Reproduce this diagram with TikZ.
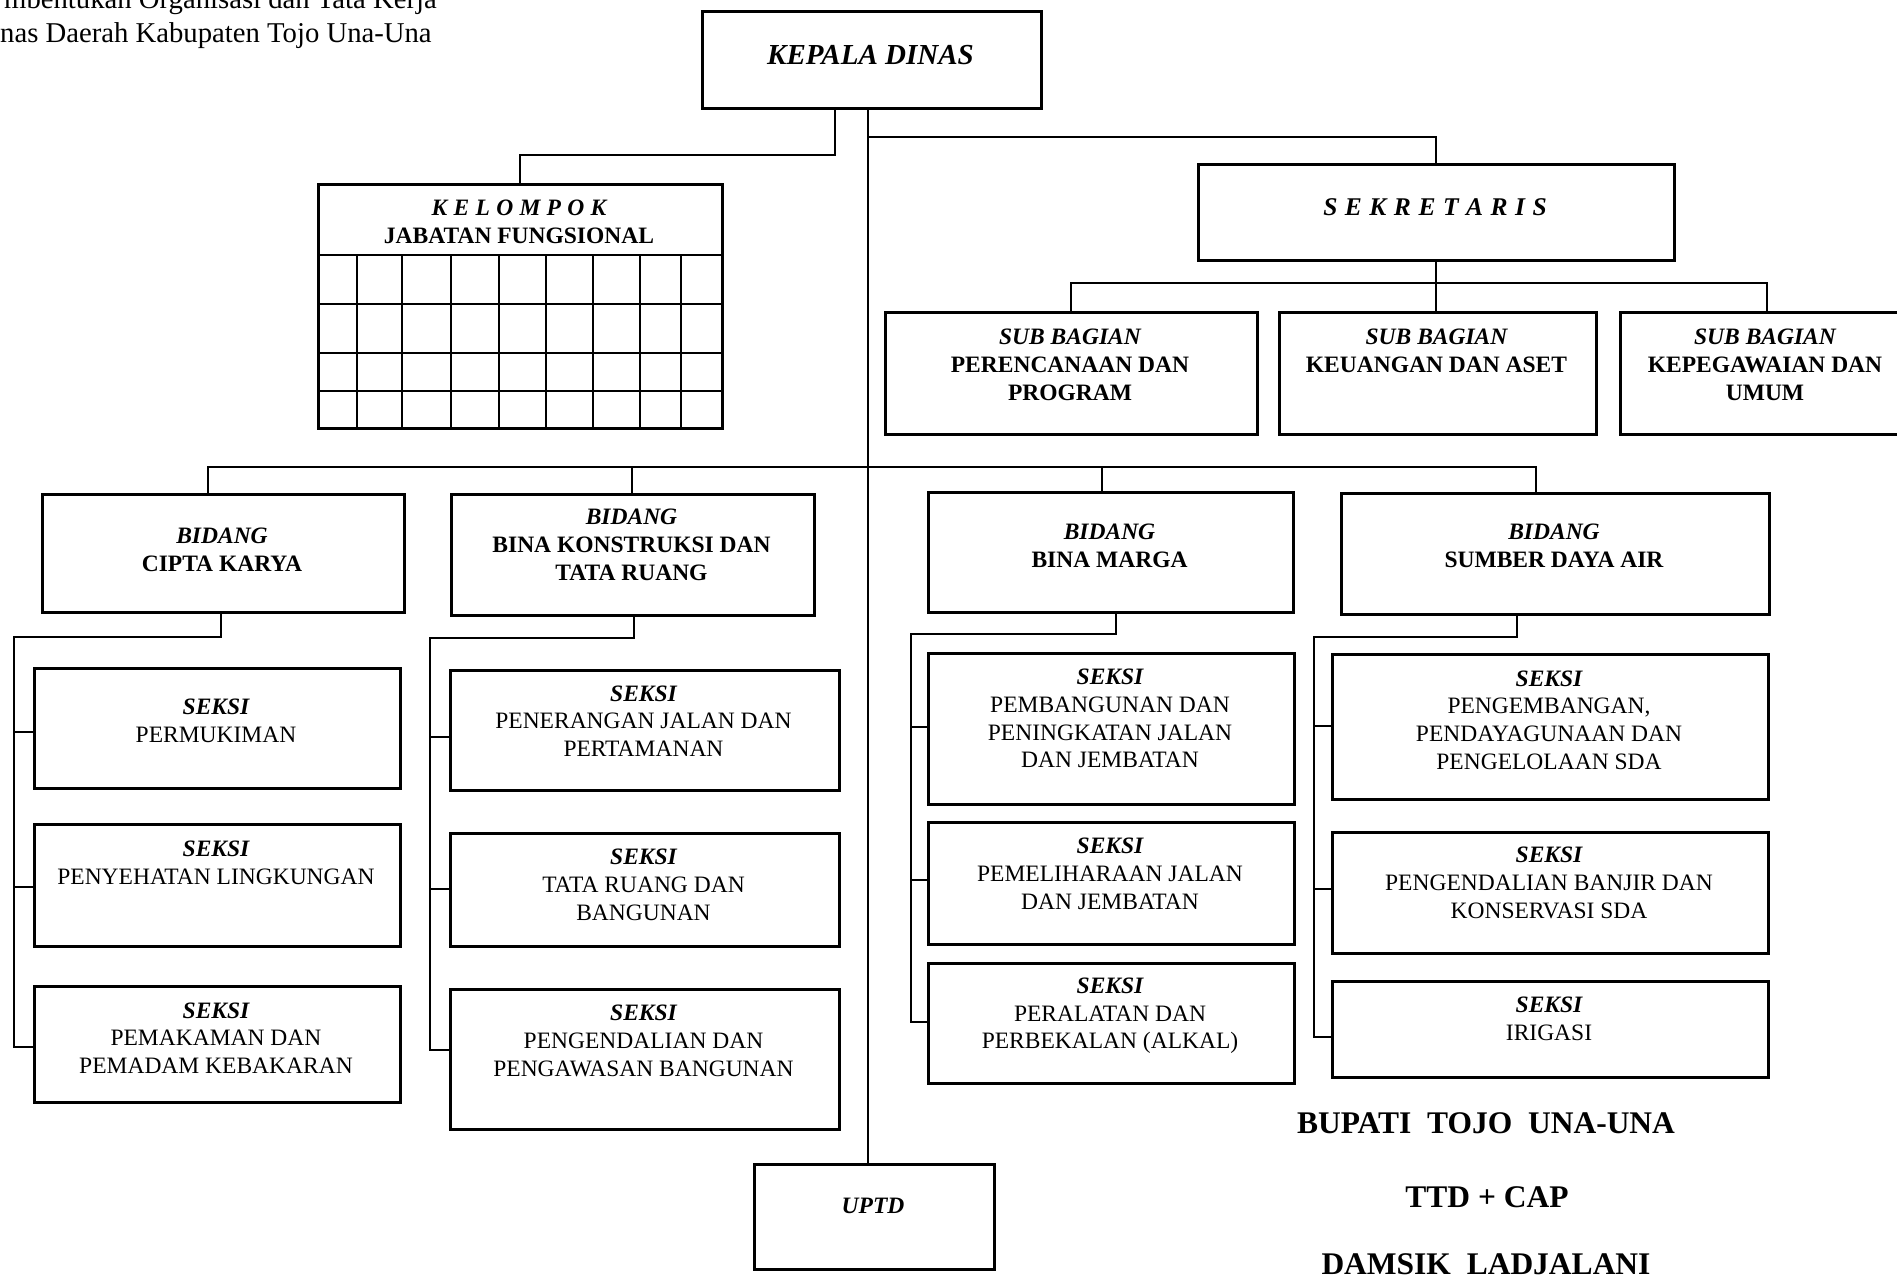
\documentclass[tikz,border=0pt]{standalone}
\usepackage{fontspec}
\setmainfont{Liberation Serif}
% box given by its top-left and bottom-right corners (y grows downwards)
\newcommand\orgbox[5]{\node[box, minimum width={(#4-#2)*1pt}, minimum height={(#5-#3)*1pt}] (#1) at (#2,#3) {};}
\newcommand\lblhead[1]{{\bfseries\itshape #1}}
\begin{document}
\begin{tikzpicture}[x=1pt, y=-1pt,
  box/.style={draw, line width=2.6pt, rectangle, inner sep=0pt, anchor=north west},
  conn/.style={line width=2.2pt},
  gridline/.style={line width=2.4pt},
  lbl/.style={inner sep=0pt, align=center, font=\fontsize{23.5}{27.7}\selectfont},
  boldlbl/.style={lbl, font=\fontsize{23.5}{27.7}\selectfont\bfseries},
  sign/.style={inner sep=0pt, font=\fontsize{31.5}{36}\selectfont\bfseries},
  hdr/.style={inner sep=0pt, anchor=base west, font=\fontsize{28.7}{34}\selectfont}]

\useasboundingbox (0,0) rectangle (1897,1281);
\clip (0,0) rectangle (1897,1281);

% heading lines of the decree
\node[hdr] (hd1) at (4,8.5) {mbentukan Organisasi dan Tata Kerja};
\node[hdr] (hd2) at (0,43) {nas Daerah Kabupaten Tojo Una-Una};

% boxes
\orgbox{kd}{701}{10}{1040}{107}
\orgbox{kjf}{317}{183}{721}{427}
\orgbox{sek}{1197}{163}{1673}{259}
\orgbox{sb1}{884}{311}{1256}{433}
\orgbox{sb2}{1278}{311}{1595}{433}
\orgbox{sb3}{1619}{311}{1912}{433}
\orgbox{b1}{41}{493}{403}{611}
\orgbox{b2}{450}{493}{813}{614}
\orgbox{b3}{927}{491}{1292}{611}
\orgbox{b4}{1340}{492}{1768}{613}
\orgbox{s11}{33}{667}{399}{787}
\orgbox{s12}{33}{823}{399}{945}
\orgbox{s13}{33}{985}{399}{1101}
\orgbox{s21}{449}{669}{838}{789}
\orgbox{s22}{449}{832}{838}{945}
\orgbox{s23}{449}{988}{838}{1128}
\orgbox{s31}{927}{652}{1293}{803}
\orgbox{s32}{927}{821}{1293}{943}
\orgbox{s33}{927}{962}{1293}{1082}
\orgbox{s41}{1331}{653}{1767}{798}
\orgbox{s42}{1331}{831}{1767}{952}
\orgbox{s43}{1331}{980}{1767}{1076}
\orgbox{uptd}{753}{1163}{993}{1268}

% grid of the functional group
\draw[gridline] (317,255) -- (721,255);
\foreach \r in {304,353,391} \draw[gridline] (317,\r) -- (721,\r);
\foreach \c in {357,402,451,499,546,593,640,681} \draw[gridline] (\c,255) -- (\c,427);

% main line and upper branches
\coordinate (mx) at (868,0);
\draw[conn] (kd.south -| mx) -- (uptd.north -| mx);
\coordinate (kjbend) at (835,155);
\draw[conn] (kd.south -| kjbend) -- (kjbend) -| (kjf.north);
\coordinate (sekj) at (868,137);
\draw[conn] (sekj) -| (sek.north);
\coordinate (sbbus) at (0,283);
\draw[conn] (sek.south) -- (sek.south |- sb2.north);
\draw[conn] (sb1.north) |- (sbbus -| sb3.north) -- (sb3.north);

% bidang bus
\coordinate (bb1) at (208,467);
\coordinate (bb2) at (632,467);
\coordinate (bb3) at (1102,467);
\coordinate (bb4) at (1536,467);
\draw[conn] (bb1 |- b1.north) -- (bb1) -- (bb4) -- (bb4 |- b4.north);
\draw[conn] (bb2) -- (bb2 |- b2.north);
\draw[conn] (bb3) -- (bb3 |- b3.north);

% seksi under Cipta Karya
\coordinate (c1t) at (221,637); \coordinate (c1b) at (14,637);
\coordinate (c1s1) at (14,732); \coordinate (c1s2) at (14,887); \coordinate (c1s3) at (14,1047);
\draw[conn] (c1t |- b1.south) -- (c1t) -- (c1b) -- (c1s3) -- (c1s3 -| s13.west);
\draw[conn] (c1s1) -- (c1s1 -| s11.west);
\draw[conn] (c1s2) -- (c1s2 -| s12.west);

% seksi under Bina Konstruksi
\coordinate (c2t) at (634,638); \coordinate (c2b) at (430,638);
\coordinate (c2s1) at (430,737); \coordinate (c2s2) at (430,889); \coordinate (c2s3) at (430,1050);
\draw[conn] (c2t |- b2.south) -- (c2t) -- (c2b) -- (c2s3) -- (c2s3 -| s23.west);
\draw[conn] (c2s1) -- (c2s1 -| s21.west);
\draw[conn] (c2s2) -- (c2s2 -| s22.west);

% seksi under Bina Marga
\coordinate (c3t) at (1116,634); \coordinate (c3b) at (911,634);
\coordinate (c3s1) at (911,727); \coordinate (c3s2) at (911,880); \coordinate (c3s3) at (911,1022);
\draw[conn] (c3t |- b3.south) -- (c3t) -- (c3b) -- (c3s3) -- (c3s3 -| s33.west);
\draw[conn] (c3s1) -- (c3s1 -| s31.west);
\draw[conn] (c3s2) -- (c3s2 -| s32.west);

% seksi under Sumber Daya Air
\coordinate (c4t) at (1517,637); \coordinate (c4b) at (1314,637);
\coordinate (c4s1) at (1314,726); \coordinate (c4s2) at (1314,889); \coordinate (c4s3) at (1314,1037);
\draw[conn] (c4t |- b4.south) -- (c4t) -- (c4b) -- (c4s3) -- (c4s3 -| s43.west);
\draw[conn] (c4s1) -- (c4s1 -| s41.west);
\draw[conn] (c4s2) -- (c4s2 -| s42.west);

% labels
\node[lbl, font=\fontsize{29}{34}\selectfont\bfseries\itshape] (kdt) at (870.5,55) {KEPALA DINAS};
\node[lbl, font=\fontsize{23.5}{27.7}\selectfont\bfseries\itshape] (kjft1) at (519,208)
  {K\kern6.3pt E\kern6.3pt L\kern6.3pt O\kern6.3pt M\kern6.3pt P\kern6.3pt O\kern6.3pt K};
\node[boldlbl] (kjft2) at (519,236) {JABATAN FUNGSIONAL};
\node[lbl, font=\fontsize{25.5}{30}\selectfont\bfseries\itshape] (sekt) at (1435,207)
  {S\kern7.5pt E\kern7.5pt K\kern7.5pt R\kern7.5pt E\kern7.5pt T\kern7.5pt A\kern7.5pt R\kern7.5pt I\kern7.5pt S};

\node[boldlbl] (sb1t) at (1070,365) {\lblhead{SUB BAGIAN}\\PERENCANAAN DAN\\PROGRAM};
\node[boldlbl] (sb2t) at (1436.5,351) {\lblhead{SUB BAGIAN}\\KEUANGAN DAN ASET};
\node[boldlbl] (sb3t) at (1765,365) {\lblhead{SUB BAGIAN}\\KEPEGAWAIAN DAN\\UMUM};

\node[boldlbl] (b1t) at (222,550) {\lblhead{BIDANG}\\CIPTA KARYA};
\node[boldlbl] (b2t) at (631.5,545) {\lblhead{BIDANG}\\BINA KONSTRUKSI DAN\\TATA RUANG};
\node[boldlbl] (b3t) at (1109.5,546) {\lblhead{BIDANG}\\BINA MARGA};
\node[boldlbl] (b4t) at (1554,546) {\lblhead{BIDANG}\\SUMBER DAYA AIR};

\node[lbl] (s11t) at (216,721) {\lblhead{SEKSI}\\PERMUKIMAN};
\node[lbl] (s12t) at (216,863) {\lblhead{SEKSI}\\PENYEHATAN LINGKUNGAN};
\node[lbl] (s13t) at (216,1038) {\lblhead{SEKSI}\\PEMAKAMAN DAN\\PEMADAM KEBAKARAN};
\node[lbl] (s21t) at (643.5,721) {\lblhead{SEKSI}\\PENERANGAN JALAN DAN\\PERTAMANAN};
\node[lbl] (s22t) at (643.5,885) {\lblhead{SEKSI}\\TATA RUANG DAN\\BANGUNAN};
\node[lbl] (s23t) at (643.5,1041) {\lblhead{SEKSI}\\PENGENDALIAN DAN\\PENGAWASAN BANGUNAN};
\node[lbl] (s31t) at (1110,718.5) {\lblhead{SEKSI}\\PEMBANGUNAN DAN\\PENINGKATAN JALAN\\DAN JEMBATAN};
\node[lbl] (s32t) at (1110,874) {\lblhead{SEKSI}\\PEMELIHARAAN JALAN\\DAN JEMBATAN};
\node[lbl] (s33t) at (1110,1016) {\lblhead{SEKSI}\\PERALATAN DAN\\PERBEKALAN (ALKAL)};
\node[lbl] (s41t) at (1549,720) {\lblhead{SEKSI}\\PENGEMBANGAN,\\PENDAYAGUNAAN DAN\\PENGELOLAAN SDA};
\node[lbl] (s42t) at (1549,883) {\lblhead{SEKSI}\\PENGENDALIAN BANJIR DAN\\KONSERVASI SDA};
\node[lbl] (s43t) at (1549,1019) {\lblhead{SEKSI}\\IRIGASI};

\node[lbl, font=\fontsize{23.5}{27.7}\selectfont\bfseries\itshape] (uptdt) at (873,1206) {UPTD};

% signature block
\node[sign] (sg1) at (1486,1123) {BUPATI\ \ TOJO\ \ UNA-UNA};
\node[sign] (sg2) at (1487,1197) {TTD + CAP};
\node[sign] (sg3) at (1486,1264) {DAMSIK\ \ LADJALANI};
\end{tikzpicture}
\end{document}
